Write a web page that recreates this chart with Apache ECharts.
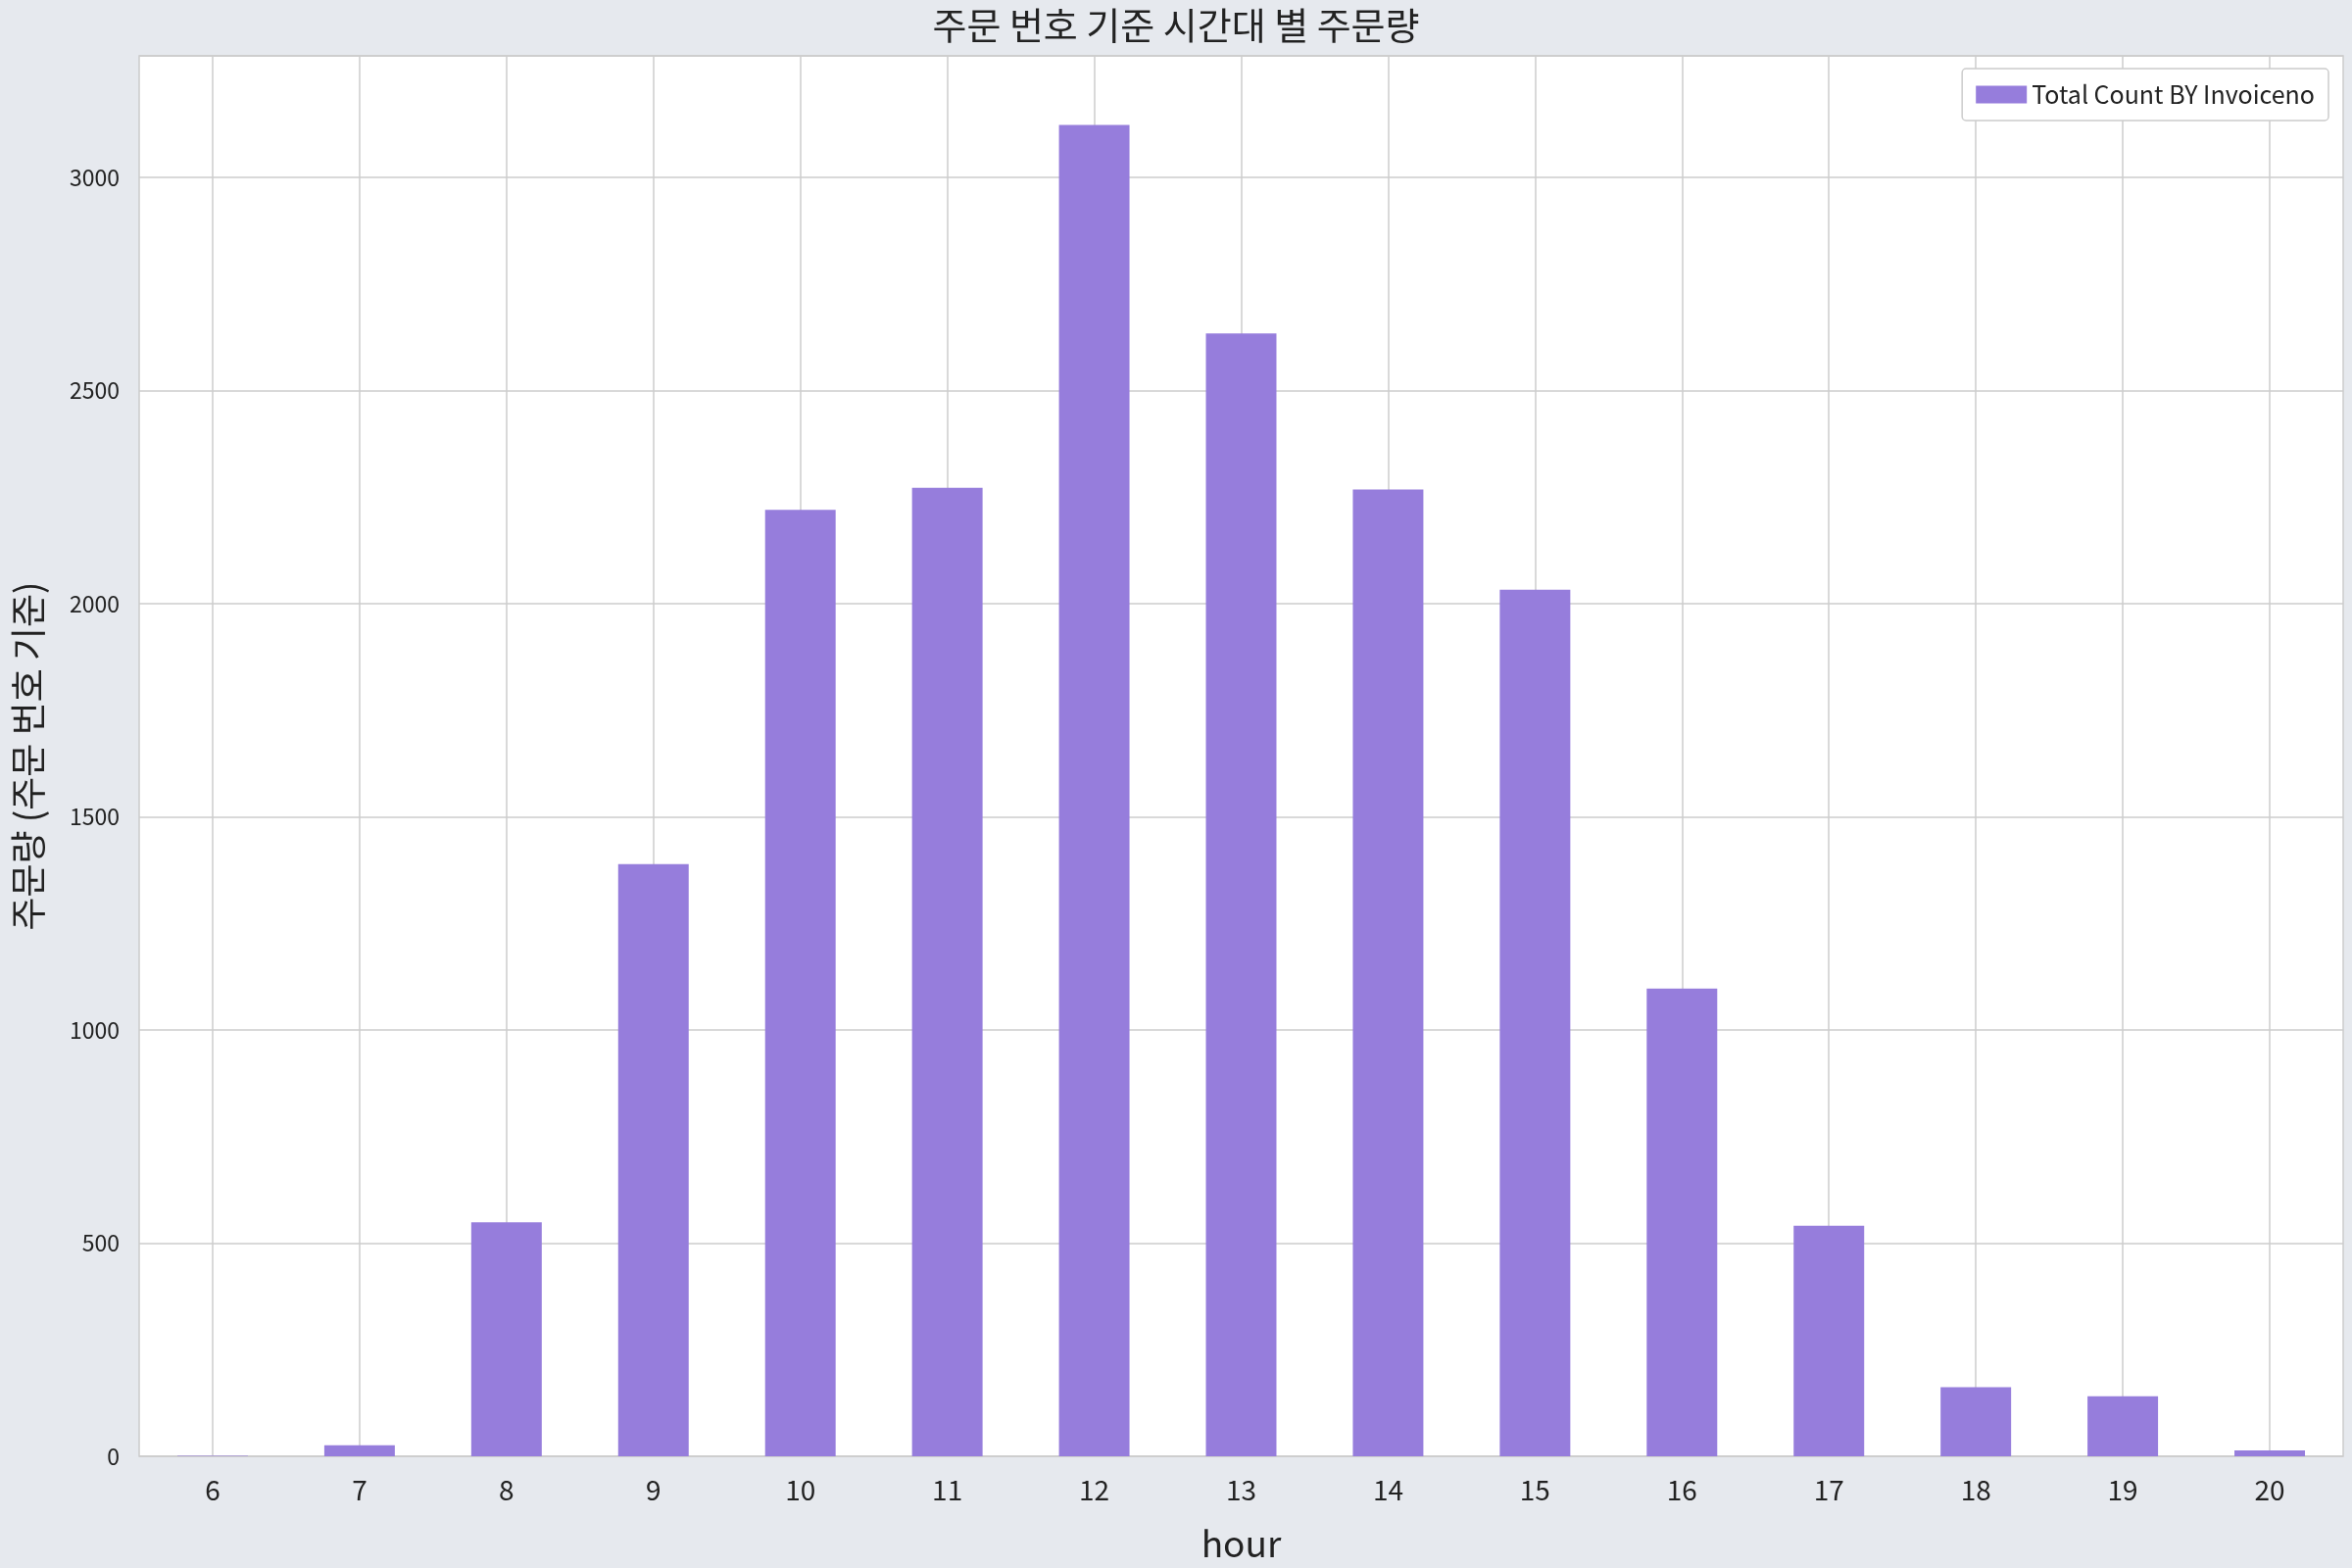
<!DOCTYPE html>
<html>
<head>
<meta charset="utf-8">
<script src="https://cdn.jsdelivr.net/npm/echarts@6/dist/echarts.min.js"></script>
<style>
  html, body { margin: 0; padding: 0; background: #e6e9ee; }
  #chart { width: 2400px; height: 1600px; }
</style>
</head>
<body>
<div id="chart"></div>
<script>
// 시간대별 주문량
var hours = ['6', '7', '8', '9', '10', '11', '12', '13', '14', '15', '16', '17', '18', '19', '20'];
var counts = [1, 26, 549, 1389, 2220, 2272, 3123, 2634, 2268, 2033, 1097, 541, 162, 141, 14];
var yTicks = [0, 500, 1000, 1500, 2000, 2500, 3000];

var font = '"Noto Sans CJK KR", "Noto Sans", sans-serif';

// 격자선을 막대 중앙에 맞추기 위한 보조 축 (반 칸 단위)
var halfSteps = [];
for (var i = 0; i < hours.length; i++) {
    halfSteps.push(i + 'a');
    halfSteps.push(i + 'b');
}
halfSteps.push('end');

var myChart = echarts.init(document.getElementById('chart'));
myChart.setOption({
    backgroundColor: '#e6e9ee',
    animation: false,
    title: {
        text: '주문 번호 기준 시간대 별 주문량',
        left: 'center',
        top: 2,
        textStyle: { fontFamily: font, fontSize: 38, fontWeight: 'normal', color: '#222' }
    },
    legend: {
        right: 24,
        top: 70,
        backgroundColor: '#fff',
        borderColor: '#ccc',
        borderWidth: 1.5,
        borderRadius: 4,
        padding: [14, 14],
        itemWidth: 52,
        itemHeight: 18,
        icon: 'rect',
        textStyle: { fontFamily: font, fontSize: 25, color: '#222' },
        data: ['Total Count BY Invoiceno']
    },
    grid: {
        left: 142, right: 9, top: 57, bottom: 114,
        show: true, backgroundColor: '#fff', borderColor: '#ccc', borderWidth: 1.5
    },
    xAxis: [{
        type: 'category',
        data: hours,
        name: 'hour',
        nameLocation: 'middle',
        nameGap: 70,
        nameTextStyle: { fontFamily: font, fontSize: 37, color: '#222' },
        axisLine: { show: false },
        axisTick: { show: false },
        splitLine: { show: false },
        axisLabel: { fontFamily: font, fontSize: 28, color: '#222', margin: 20 }
    }, {
        type: 'category',
        data: halfSteps,
        boundaryGap: false,
        position: 'bottom',
        axisLine: { show: false },
        axisTick: { show: false },
        axisLabel: { show: false },
        splitLine: {
            show: true,
            interval: function (idx) { return idx % 2 === 1; },
            lineStyle: { color: '#ccc', width: 1.5 }
        }
    }],
    yAxis: {
        type: 'value',
        min: 0,
        max: 3285,
        interval: 500,
        name: '주문량 (주문 번호 기준)',
        nameLocation: 'middle',
        nameGap: 95,
        nameTextStyle: { fontFamily: font, fontSize: 37, color: '#222' },
        axisLine: { show: false },
        axisTick: { show: false },
        axisLabel: {
            fontFamily: font, fontSize: 23, color: '#222', margin: 20,
            formatter: function (v) { return yTicks.indexOf(v) >= 0 ? String(v) : ''; }
        },
        splitLine: { lineStyle: { color: '#ccc', width: 1.5 } }
    },
    series: [{
        name: 'Total Count BY Invoiceno',
        type: 'bar',
        xAxisIndex: 0,
        data: counts,
        barCategoryGap: '52%',
        itemStyle: { color: '#967ddc' }
    }]
});
</script>
</body>
</html>
